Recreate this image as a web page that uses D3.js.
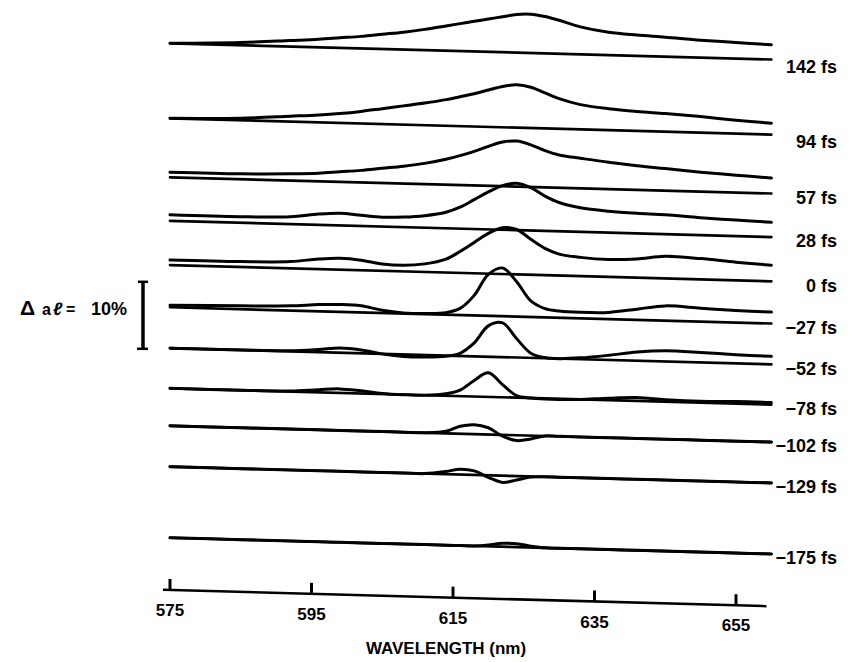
<!DOCTYPE html>
<html>
<head>
<meta charset="utf-8">
<script src="https://cdn.jsdelivr.net/npm/d3@7"></script>
<style>
  html, body { margin: 0; padding: 0; background: #fff; }
  svg { display: block; font-family: "Liberation Sans", Arial, sans-serif; }
</style>
</head>
<body>
<div id="chart"></div>
<script>
// delay labels, top to bottom
const delays = ["142 fs", "94 fs", "57 fs", "28 fs", "0 fs", "\u221227 fs", "\u221252 fs",
    "\u221278 fs", "\u2212102 fs", "\u2212129 fs", "\u2212175 fs"];
// vertical offset of each trace's zero line, in % of delta a*l
const offsets = [81.6, 70.4, 61.6, 55.1, 48.5, 42.2, 36.1, 30.1, 24.5, 18.4, 7.8];
// sampled wavelengths (nm)
const wavelengths = [575, 585, 592, 596, 599, 602, 605, 608, 611, 614, 616, 618, 620, 622, 624,
    626, 628, 630, 633, 637, 641, 645, 650, 655, 660];
// delta a*l (%) for each delay
const s142 = [0, 0.4, 0.9, 1.2, 1.5, 1.8, 2.2, 2.6, 3.1, 3.7, 4.1, 4.5, 4.9, 5.3, 5.7, 5.8, 5.5, 5.0, 4.1, 3.4, 3.1, 2.9, 2.6, 2.4, 2.2];
const s94 = [0, 0.3, 0.8, 1.1, 1.4, 1.8, 2.3, 2.8, 3.3, 3.9, 4.4, 4.9, 5.5, 6.1, 6.4, 6.1, 5.3, 4.5, 3.7, 3.2, 2.9, 2.7, 2.4, 2.0, 1.7];
const s57 = [0.75, 0.8, 1.0, 1.2, 1.5, 1.8, 2.2, 2.6, 3.1, 3.8, 4.4, 5.1, 5.9, 6.6, 6.8, 6.3, 5.5, 4.9, 4.5, 4.0, 3.6, 3.3, 2.9, 2.6, 2.3];
const s28 = [0.9, 0.9, 1.1, 1.6, 1.8, 1.6, 1.4, 1.5, 1.8, 2.4, 3.2, 4.4, 5.6, 6.6, 7.0, 6.4, 5.2, 4.3, 3.6, 3.2, 3.0, 2.9, 2.6, 2.4, 2.2];
const s0 = [0.75, 0.8, 1.0, 1.5, 1.7, 1.5, 1.0, 0.9, 1.2, 2.0, 3.2, 4.6, 6.0, 6.9, 6.7, 5.3, 4.0, 3.2, 2.8, 2.6, 2.8, 3.3, 3.1, 2.7, 2.4];
const sM27 = [0.3, 0.5, 0.7, 1.0, 1.1, 1.0, 0.4, 0.1, 0.1, 0.3, 1.0, 3.0, 6.2, 7.2, 5.2, 2.4, 1.3, 1.0, 0.9, 1.0, 1.6, 2.2, 2.0, 1.8, 1.7];
const sM52 = [0, 0, 0.1, 0.4, 0.7, 0.5, 0, -0.3, -0.3, -0.1, 0.4, 2.0, 4.6, 5.1, 2.8, 0.7, 0.1, 0, 0.2, 0.7, 1.3, 1.6, 1.5, 1.3, 1.2];
const sM78 = [0, 0, 0.1, 0.4, 0.6, 0.4, 0.1, 0, 0, 0.3, 0.9, 2.4, 3.6, 1.9, 0.3, 0, -0.1, -0.1, 0, 0.3, 0.5, 0.3, 0.2, 0.3, 0.3];
const sM102 = [0, 0, 0, 0, 0, 0, 0, 0, 0, 0.3, 1.1, 1.4, 1.0, -0.2, -0.8, -0.5, 0, 0, 0, 0, 0, 0, 0, 0, 0];
const sM129 = [0, 0, 0, 0, 0, 0, 0, 0, 0, 0.4, 0.8, 0.6, -0.3, -1.0, -0.6, -0.1, 0, 0, 0, 0, 0, 0, 0, 0, 0];
const sM175 = [0, 0, 0, 0, 0, 0, 0, 0, 0, 0, 0, 0, 0.2, 0.5, 0.5, 0.2, 0, 0, 0, 0, 0, 0, 0, 0, 0];
const series = [s142, s94, s57, s28, s0, sM27, sM52, sM78, sM102, sM129, sM175];
const xTicks = [575, 595, 615, 635, 655];
const scaleBar = 10; // % for the vertical bar

const width = 858, height = 662;
// the original plate is slightly tilted: lines drop to the right
const slope = 0.027;

const x = d3.scaleLinear().domain([575, 655]).range([170, 736]);
const y = d3.scaleLinear().domain([0, 10]).range([590, 523]);
const tilt = px => slope * (px - x(575));

const svg = d3.select("#chart").append("svg")
    .attr("width", width)
    .attr("height", height);

svg.append("rect").attr("width", width).attr("height", height).attr("fill", "#fff");

// everything drawn inside this group gets the tilt
const plot = svg.append("g")
    .attr("transform", "matrix(1," + slope + ",0,1,0," + (-slope * x(575)) + ")");

series.forEach(function (vals, i) {
    let off = offsets[i];
    let pts = wavelengths.map((w, j) => ({w: w, v: vals[j]}));

    // zero line of the trace
    plot.append("line")
        .attr("x1", x(wavelengths[0]))
        .attr("x2", x(wavelengths[wavelengths.length - 1]))
        .attr("y1", y(off))
        .attr("y2", y(off))
        .attr("stroke", "#000")
        .attr("stroke-width", 2.7)
        .attr("stroke-linecap", "round");

    // the spectrum
    let line = d3.line()
        .x(d => x(d.w))
        .y(d => y(off + d.v))
        .curve(d3.curveCatmullRom.alpha(0.5));
    plot.append("path")
        .datum(pts)
        .attr("d", line)
        .attr("fill", "none")
        .attr("stroke", "#000")
        .attr("stroke-width", 3)
        .attr("stroke-linejoin", "round")
        .attr("stroke-linecap", "round");

    // delay label at the right end
    let xr = x(wavelengths[wavelengths.length - 1]);
    svg.append("text")
        .attr("x", 837)
        .attr("y", y(off) + tilt(xr) + (i < 2 ? 7 : 4))
        .attr("dy", "0.35em")
        .attr("text-anchor", "end")
        .style("font-size", "18px")
        .style("font-weight", "bold")
        .text(delays[i]);
});

// x axis line (tilted)
plot.append("line")
    .attr("x1", x(574))
    .attr("x2", x(659.3))
    .attr("y1", y(0))
    .attr("y2", y(0))
    .attr("stroke", "#000")
    .attr("stroke-width", 2.6);

// ticks + labels, moved down along the tilt but kept upright
const axisG = svg.append("g")
    .attr("transform", "translate(0," + y(0) + ")")
    .call(d3.axisBottom(x).tickValues(xTicks).tickSize(-11).tickPadding(14).tickFormat(d3.format("d")));
axisG.select(".domain").remove();
axisG.selectAll(".tick")
    .attr("transform", d => "translate(" + x(d) + "," + tilt(x(d)) + ")");
axisG.selectAll(".tick line")
    .attr("stroke", "#000")
    .attr("stroke-width", 3);
axisG.selectAll(".tick text")
    .attr("fill", "#000")
    .style("font-family", "'Liberation Sans', Arial, sans-serif")
    .style("font-size", "17px")
    .style("font-weight", "bold");

svg.append("text")
    .attr("x", 446)
    .attr("y", 654)
    .attr("text-anchor", "middle")
    .style("font-size", "17px")
    .style("font-weight", "bold")
    .text("WAVELENGTH (nm)");

// scale bar
const barX = 143;
const barTop = y(36 + scaleBar), barBot = y(36);
svg.append("line")
    .attr("x1", barX).attr("x2", barX)
    .attr("y1", barTop).attr("y2", barBot)
    .attr("stroke", "#000").attr("stroke-width", 3.5);
[barTop, barBot].forEach(function (yy, k) {
    svg.append("line")
        .attr("x1", barX - (k ? 6 : 5)).attr("x2", barX + 5)
        .attr("y1", yy).attr("y2", yy)
        .attr("stroke", "#000").attr("stroke-width", 2.5);
});

const lab = svg.append("text")
    .attr("y", 315)
    .style("font-weight", "bold");
lab.append("tspan").attr("x", 20).style("font-size", "21px").text("\u0394");
lab.append("tspan").attr("x", 42).style("font-size", "16px").text("a");
lab.append("tspan").attr("x", 53).style("font-size", "18px").style("font-style", "italic").text("\u2113");
lab.append("tspan").attr("x", 66).style("font-size", "16px").text("=");
lab.append("tspan").attr("x", 91).style("font-size", "18px").text(scaleBar + "%");
</script>
</body>
</html>
